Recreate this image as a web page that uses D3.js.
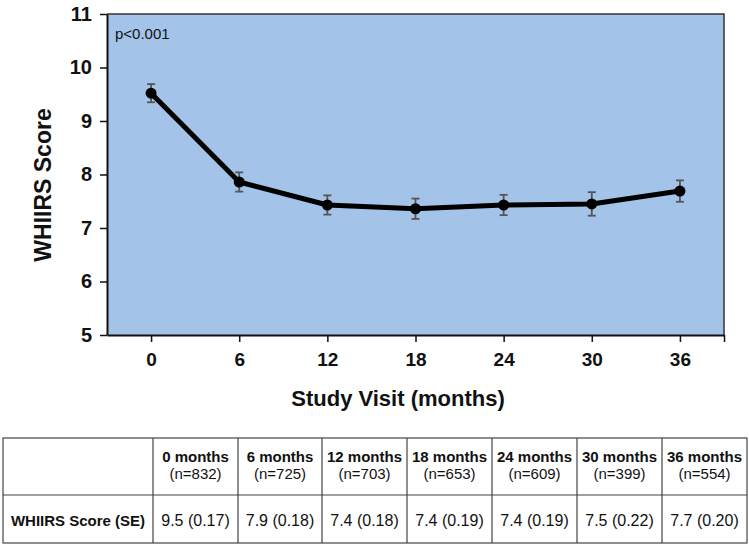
<!DOCTYPE html>
<html><head><meta charset="utf-8">
<script src="https://cdn.jsdelivr.net/npm/d3@7"></script>
<style>
body{margin:0;background:#fff;font-family:"Liberation Sans",Arial,sans-serif;}
svg{display:block}
</style></head>
<body>
<svg id="c" width="749" height="546"></svg>
<script>
const months = [0, 6, 12, 18, 24, 30, 36];
const scores = [9.52, 7.86, 7.43, 7.36, 7.43, 7.45, 7.69];
const se = [0.17, 0.18, 0.18, 0.19, 0.19, 0.22, 0.20];
const counts = [832, 725, 703, 653, 609, 399, 554];
const tableScores = ["9.5 (0.17)", "7.9 (0.18)", "7.4 (0.18)", "7.4 (0.19)", "7.4 (0.19)", "7.5 (0.22)", "7.7 (0.20)"];
const yTicks = [5, 6, 7, 8, 9, 10, 11];
const xTicks = [0, 6, 12, 18, 24, 30, 36];

const svg = d3.select("#c");
const L = 107, R = 724, T = 14, B = 335;
const x = d3.scaleLinear().domain([-3, 39]).range([L, R]);
const y = d3.scaleLinear().domain([5, 11]).range([B, T]);

// plot background
svg.append("rect").attr("x", L).attr("y", T).attr("width", R - L).attr("height", B - T)
  .attr("fill", "#a3c4e8");
// top & right frame
svg.append("path").attr("d", `M${L},${T}H${R}V${B}`).attr("fill", "none")
  .attr("stroke", "#333").attr("stroke-width", 1.5);

// y axis
const ya = svg.append("g").attr("transform", `translate(${L},0)`)
  .call(d3.axisLeft(y).tickValues(yTicks).tickFormat(d3.format("d")).tickSize(7).tickPadding(8).tickSizeOuter(0));
ya.select(".domain").attr("stroke", "#111").attr("stroke-width", 2);
ya.selectAll(".tick line").attr("stroke", "#111").attr("stroke-width", 1.5);
ya.selectAll(".tick text").attr("font-family", "Liberation Sans, Arial, sans-serif")
  .attr("font-size", 20).attr("font-weight", "bold").attr("fill", "#111");

// x axis
const xa = svg.append("g").attr("transform", `translate(0,${B})`)
  .call(d3.axisBottom(x).tickValues(xTicks.concat([39])).tickSize(7).tickPadding(11).tickSizeOuter(0)
    .tickFormat(d => d === 39 ? "" : d));
xa.select(".domain").attr("stroke", "#111").attr("stroke-width", 2);
xa.selectAll(".tick line").attr("stroke", "#111").attr("stroke-width", 1.5);
xa.selectAll(".tick text").attr("font-family", "Liberation Sans, Arial, sans-serif")
  .attr("font-size", 19).attr("font-weight", "bold").attr("fill", "#111");

// axis titles
svg.append("text").attr("x", 398).attr("y", 406).attr("text-anchor", "middle")
  .attr("font-size", 22).attr("font-weight", "bold").attr("fill", "#111").text("Study Visit (months)");
svg.append("text").attr("transform", "translate(51,185) rotate(-90)").attr("text-anchor", "middle")
  .attr("font-size", 23).attr("font-weight", "bold").attr("fill", "#111").text("WHIIRS Score");

svg.append("text").attr("x", 115).attr("y", 39).attr("font-size", 15).attr("fill", "#111").text("p<0.001");

const data = months.map((m, i) => ({m, v: scores[i], e: se[i]}));

// error bars
const eb = svg.append("g").attr("stroke", "#555").attr("stroke-width", 1.8);
data.forEach(d => {
  eb.append("line").attr("x1", x(d.m)).attr("x2", x(d.m)).attr("y1", y(d.v - d.e)).attr("y2", y(d.v + d.e));
  eb.append("line").attr("x1", x(d.m) - 4).attr("x2", x(d.m) + 4).attr("y1", y(d.v - d.e)).attr("y2", y(d.v - d.e));
  eb.append("line").attr("x1", x(d.m) - 4).attr("x2", x(d.m) + 4).attr("y1", y(d.v + d.e)).attr("y2", y(d.v + d.e));
});

// line
svg.append("path").datum(data)
  .attr("d", d3.line().x(d => x(d.m)).y(d => y(d.v)))
  .attr("fill", "none").attr("stroke", "#000").attr("stroke-width", 5).attr("stroke-linejoin", "round");
svg.selectAll("circle.pt").data(data).enter().append("circle").attr("class", "pt")
  .attr("cx", d => x(d.m)).attr("cy", d => y(d.v)).attr("r", 5.5).attr("fill", "#000");

// table
const colX = [3, 153, 238, 322, 407, 492, 577, 662, 747];
const rowY = [438, 495, 543];
const tg = svg.append("g");
tg.append("rect").attr("x", colX[0]).attr("y", rowY[0]).attr("width", colX[8] - colX[0]).attr("height", rowY[2] - rowY[0])
  .attr("fill", "none").attr("stroke", "#444").attr("stroke-width", 1.2);
tg.append("line").attr("x1", colX[0]).attr("x2", colX[8]).attr("y1", rowY[1]).attr("y2", rowY[1])
  .attr("stroke", "#444").attr("stroke-width", 1.2);
colX.slice(1, 8).forEach(cx => tg.append("line").attr("x1", cx).attr("x2", cx).attr("y1", rowY[0]).attr("y2", rowY[2])
  .attr("stroke", "#444").attr("stroke-width", 1.2));

months.forEach((m, i) => {
  const cx = (colX[i + 1] + colX[i + 2]) / 2;
  tg.append("text").attr("x", cx).attr("y", 462).attr("text-anchor", "middle").attr("font-size", 15)
    .attr("font-weight", "bold").attr("fill", "#111").text(m + " months");
  tg.append("text").attr("x", cx).attr("y", 479).attr("text-anchor", "middle").attr("font-size", 15)
    .attr("fill", "#111").text("(n=" + counts[i] + ")");
  tg.append("text").attr("x", cx).attr("y", 526).attr("text-anchor", "middle").attr("font-size", 16)
    .attr("fill", "#111").text(tableScores[i]);
});
tg.append("text").attr("x", (colX[0] + colX[1]) / 2).attr("y", 526).attr("text-anchor", "middle")
  .attr("font-size", 15).attr("font-weight", "bold").attr("fill", "#111").text("WHIIRS Score (SE)");
</script>
</body></html>
